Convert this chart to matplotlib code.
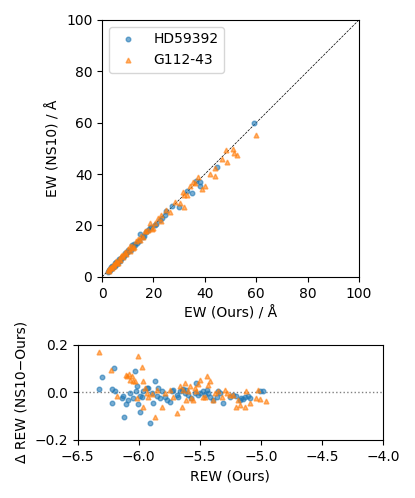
import matplotlib
matplotlib.use("Agg")
import matplotlib.pyplot as plt

# EW comparison (Ours vs NS10)
hd_ours = [59.1, 44.7, 38.3, 38.0, 35.0, 33.0, 36.5, 29.8, 27.2, 25.0, 24.4, 22.4,
           20.5, 19.2, 17.9, 16.5, 15.8, 14.9, 13.5, 12.0, 11.2, 10.0, 9.8, 9.2,
           8.5, 7.8, 7.0, 6.5, 6.2, 5.8, 5.2, 4.8, 4.2, 4.0, 3.6, 3.2, 3.0, 2.8,
           2.5, 11.8, 13.0, 7.4, 5.5, 3.4, 18.6, 21.0, 9.0, 10.6, 4.5, 6.8,
           2.2, 3.8, 5.0, 8.0, 14.2, 16.9, 23.5, 12.6]
hd_ns10 = [59.8, 42.7, 37.0, 35.5, 32.5, 33.5, 37.5, 27.3, 27.6, 25.5, 24.1, 22.1,
           20.3, 19.5, 18.2, 16.0, 15.5, 16.7, 13.2, 11.8, 10.6, 10.4, 9.5, 8.8,
           8.1, 7.9, 6.3, 6.8, 5.8, 5.2, 5.5, 4.3, 3.8, 4.2, 3.9, 2.8, 3.1, 2.6,
           2.4, 12.3, 12.6, 7.0, 5.9, 3.0, 18.9, 20.6, 9.3, 10.2, 4.1, 7.1,
           1.9, 3.3, 4.4, 7.6, 14.0, 17.3, 22.9, 12.9]

g1_ours = [60.0, 51.0, 48.4, 51.4, 52.7, 48.6, 46.7, 43.9, 43.9, 41.9, 40.0, 39.0,
           37.4, 36.1, 31.8, 33.1, 31.5, 34.1, 31.8, 30.2, 28.3, 25.0, 23.1, 21.8,
           20.5, 18.5, 17.9, 16.0, 14.7, 13.2, 12.5, 11.5, 10.8, 10.0, 9.5, 8.8,
           8.2, 7.5, 7.0, 6.4, 5.9, 5.3, 4.8, 4.2, 3.7, 3.1, 2.6, 2.2, 19.5, 22.8,
           15.2, 12.0, 9.0, 6.0, 4.5, 35.5, 26.5, 17.0, 13.8, 11.0, 7.8, 5.6, 3.4,
           2.8, 16.6, 20.0]
g1_ns10 = [55.3, 49.7, 49.5, 48.2, 47.3, 44.7, 46.0, 42.3, 39.3, 40.0, 35.4, 34.1,
           39.0, 36.5, 31.9, 31.9, 33.2, 35.2, 27.3, 28.6, 29.3, 26.0, 24.1, 22.8,
           20.8, 20.8, 18.2, 15.6, 14.3, 14.0, 11.6, 12.2, 10.0, 10.8, 8.9, 9.4,
           7.6, 8.0, 6.4, 7.0, 5.5, 5.8, 4.3, 4.7, 3.3, 3.5, 2.2, 2.5, 18.6, 21.6,
           16.0, 11.2, 9.7, 5.4, 5.0, 36.8, 25.3, 17.8, 14.6, 11.9, 8.5, 6.1, 3.8,
           3.2, 18.0, 19.2]

# residuals in REW
hd_rew = [-6.326, -6.298, -6.200, -6.222, -6.216, -6.195, -6.135, -6.127, -6.121, -6.105,
          -6.086, -6.072, -6.045, -6.031, -6.023, -6.017, -6.004, -5.990, -5.990, -5.977,
          -5.963, -5.936, -5.922, -5.908, -5.895, -5.881, -5.867, -5.854, -5.840, -5.827,
          -5.813, -5.786, -5.772, -5.745, -5.731, -5.718, -5.690, -5.677, -5.663, -5.649,
          -5.636, -5.622, -5.609, -5.595, -5.568, -5.540, -5.527, -5.513, -5.499, -5.472,
          -5.459, -5.445, -5.431, -5.418, -5.390, -5.363, -5.350, -5.336, -5.309, -5.254,
          -5.227, -5.200, -5.172, -5.159, -5.145, -5.131, -5.104, -5.085, -5.009, -4.981]
hd_drew = [0.015, 0.064, 0.102, 0.015, -0.046, 0.004, -0.025, -0.015, -0.105, -0.048,
           -0.032, -0.004, -0.025, 0.088, 0.004, 0.025, -0.048, -0.084, -0.015, -0.020,
           0.004, 0.018, 0.018, -0.130, -0.001, -0.046, 0.050, -0.015, 0.018, -0.025,
           0.004, -0.020, -0.032, -0.039, 0.004, 0.011, -0.011, -0.020, 0.004, 0.011,
           0.013, -0.004, 0.011, -0.011, -0.025, -0.004, 0.039, -0.011, -0.001, 0.004,
           -0.011, 0.011, -0.004, -0.018, -0.032, -0.018, 0.004, -0.004, -0.043, -0.020,
           -0.011, -0.015, -0.032, -0.025, -0.029, -0.020, -0.015, -0.025, 0.004, 0.004]

g1_rew = [-6.326, -6.227, -6.181, -6.105, -6.094, -6.077, -6.072, -6.058, -6.050, -6.031,
          -6.017, -6.004, -5.977, -5.963, -5.968, -5.949, -5.936, -5.922, -5.887, -5.867,
          -5.854, -5.813, -5.786, -5.745, -5.718, -5.690, -5.663, -5.649, -5.636, -5.622,
          -5.609, -5.595, -5.581, -5.568, -5.554, -5.540, -5.527, -5.513, -5.499, -5.472,
          -5.459, -5.445, -5.431, -5.418, -5.390, -5.377, -5.350, -5.322, -5.295, -5.281,
          -5.254, -5.227, -5.200, -5.186, -5.172, -5.131, -5.118, -5.090, -5.036, -5.022,
          -5.009, -4.954]
g1_drew = [0.168, 0.095, -0.015, 0.074, 0.067, 0.078, 0.053, 0.069, 0.050, 0.046,
           -0.025, 0.154, 0.109, 0.050, -0.060, 0.018, -0.001, -0.018, -0.006, -0.105,
           0.011, -0.062, -0.004, 0.011, -0.018, -0.088, 0.025, -0.060, 0.011, 0.039,
           -0.032, 0.004, 0.025, -0.025, -0.032, 0.018, 0.004, 0.036, 0.053, -0.020,
           -0.018, 0.069, 0.032, 0.046, -0.032, -0.001, 0.004, -0.018, 0.011, -0.004,
           -0.011, -0.011, -0.060, -0.032, -0.053, -0.060, 0.004, -0.046, -0.025, 0.011,
           -0.029, -0.034]

fig = plt.figure(figsize=(4.15, 4.98), dpi=100)
ax1 = fig.add_axes([0.246, 0.444, 0.619, 0.516])
ax2 = fig.add_axes([0.187, 0.1165, 0.736, 0.191])

ax1.plot([0, 100], [0, 100], 'k--', lw=0.5, zorder=0)
ax1.plot(hd_ours, hd_ns10, 'o', ms=3.3, alpha=0.6, color='C0', label='HD59392')
ax1.plot(g1_ours, g1_ns10, '^', ms=3.5, alpha=0.6, color='C1', label='G112-43')
ax1.set_xlim(0, 100)
ax1.set_ylim(0, 100)
ax1.set_xlabel('EW (Ours) / Å')
ax1.set_ylabel('EW (NS10) / Å')
ax1.legend(loc='upper left')

ax2.axhline(0, color='gray', ls=':', lw=1, zorder=0)
ax2.plot(hd_rew, hd_drew, 'o', ms=3.3, alpha=0.6, color='C0')
ax2.plot(g1_rew, g1_drew, '^', ms=3.5, alpha=0.6, color='C1')
ax2.set_xlim(-6.5, -4.0)
ax2.set_ylim(-0.2, 0.2)
ax2.set_xlabel('REW (Ours)')
ax2.set_ylabel('Δ REW (NS10−Ours)')

fig.savefig('out.png', dpi=100)
